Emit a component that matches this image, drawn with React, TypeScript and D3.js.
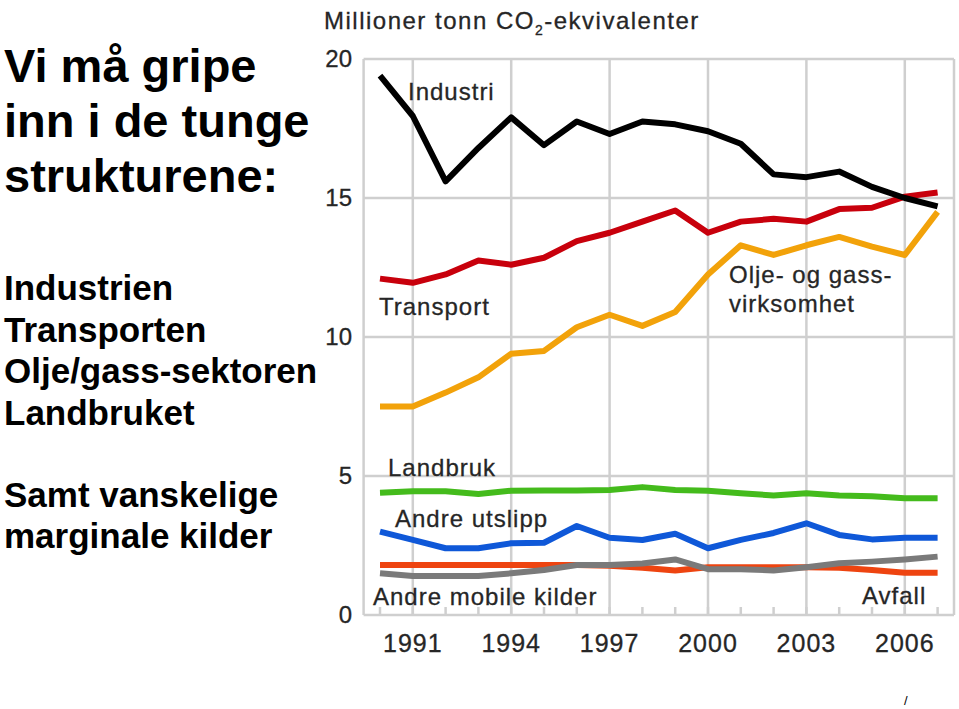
import React from "react";
import * as d3 from "d3";

const years = [1990, 1991, 1992, 1993, 1994, 1995, 1996, 1997, 1998, 1999, 2000, 2001, 2002, 2003, 2004, 2005, 2006, 2007];
const industri = [19.4, 17.95, 15.6, 16.8, 17.9, 16.9, 17.75, 17.3, 17.75, 17.65, 17.4, 16.95, 15.85, 15.75, 15.95, 15.4, 15.0, 14.7];
const transport = [12.1, 11.95, 12.25, 12.75, 12.6, 12.85, 13.45, 13.75, 14.15, 14.55, 13.75, 14.15, 14.25, 14.15, 14.6, 14.65, 15.05, 15.2];
const oljeGass = [7.5, 7.5, 8.0, 8.55, 9.4, 9.5, 10.35, 10.8, 10.4, 10.9, 12.25, 13.3, 12.95, 13.3, 13.6, 13.25, 12.95, 14.5];
const landbruk = [4.4, 4.45, 4.45, 4.35, 4.47, 4.48, 4.48, 4.5, 4.6, 4.5, 4.47, 4.38, 4.3, 4.38, 4.3, 4.27, 4.2, 4.2];
const andreUtslipp = [3.0, 2.7, 2.4, 2.4, 2.58, 2.6, 3.2, 2.78, 2.7, 2.92, 2.4, 2.7, 2.95, 3.3, 2.88, 2.72, 2.78, 2.78];
const avfall = [1.8, 1.8, 1.8, 1.8, 1.8, 1.8, 1.8, 1.77, 1.7, 1.6, 1.72, 1.72, 1.72, 1.72, 1.7, 1.62, 1.52, 1.52];
const andreMobile = [1.5, 1.4, 1.4, 1.4, 1.5, 1.62, 1.8, 1.8, 1.85, 2.0, 1.65, 1.65, 1.6, 1.72, 1.86, 1.92, 2.0, 2.1];

const yTicks = [0, 5, 10, 15, 20];
const xTickLabels = [1991, 1994, 1997, 2000, 2003, 2006];

const titleLines = ["Vi må gripe", "inn i de tunge", "strukturene:"];
const bodyLines = ["Industrien", "Transporten", "Olje/gass-sektoren", "Landbruket"];
const bodyLines2 = ["Samt vanskelige", "marginale kilder"];

const series = [
  { name: "avfall", values: avfall, color: "#ee4410" },
  { name: "andreMobile", values: andreMobile, color: "#7a7a7a" },
  { name: "andreUtslipp", values: andreUtslipp, color: "#0f58d8" },
  { name: "landbruk", values: landbruk, color: "#44bb1c" },
  { name: "oljeGass", values: oljeGass, color: "#f2a20a" },
  { name: "transport", values: transport, color: "#c8000c" },
  { name: "industri", values: industri, color: "#000000" },
];

export default function App() {
  const x = d3.scaleLinear().domain([1990, 2007]).range([380, 937.6]);
  const y = d3.scaleLinear().domain([0, 20]).range([615, 59]);
  const line = d3
    .line<number>()
    .x((_, i) => x(years[i]))
    .y((d) => y(d));

  const left = x(1989.5);
  const right = x(2007.5);
  const labelFont = "'Liberation Sans', Arial, sans-serif";
  const lab = { fontFamily: labelFont, fontSize: 24, fill: "#262626", letterSpacing: 1, stroke: "#262626", strokeWidth: 0.3 } as const;

  return (
    <svg
      width={959}
      height={709}
      style={{ position: "absolute", left: 0, top: 0, background: "#fff" }}
    >
      <rect x={0} y={0} width={959} height={709} fill="#fff" />
      {/* left text */}
      <g fontFamily={labelFont} fontWeight="bold" fill="#000">
        {titleLines.map((t, i) => (
          <text key={t} x={4} y={82 + i * 55} fontSize={47}>
            {t}
          </text>
        ))}
        {bodyLines.map((t, i) => (
          <text key={t} x={4} y={300 + i * 41.7} fontSize={35}>
            {t}
          </text>
        ))}
        {bodyLines2.map((t, i) => (
          <text key={t} x={4} y={507 + i * 41} fontSize={35}>
            {t}
          </text>
        ))}
      </g>

      {/* grid */}
      <g stroke="#cfcfcf" strokeWidth={2.5}>
        {yTicks.map((t) => (
          <line key={t} x1={left} x2={right} y1={y(t)} y2={y(t)} />
        ))}
        {xTickLabels.map((t) => (
          <line key={t} x1={x(t)} x2={x(t)} y1={y(20)} y2={y(0)} />
        ))}
        <line x1={left} x2={left} y1={y(20)} y2={y(0)} />
        <line x1={right} x2={right} y1={y(20)} y2={y(0)} />
        {years.map((yr) => (
          <line key={yr} x1={x(yr)} x2={x(yr)} y1={y(0)} y2={y(0) - 8} />
        ))}
      </g>

      {/* axis labels */}
      {yTicks.map((t) => (
        <text key={t} x={352} y={y(t) + 8} textAnchor="end" {...lab} fontSize={24} letterSpacing={0}>
          {t}
        </text>
      ))}
      {xTickLabels.map((t) => (
        <text key={t} x={x(t)} y={652} textAnchor="middle" {...lab} fontSize={25} letterSpacing={1}>
          {t}
        </text>
      ))}
      <text x={324} y={29} {...lab} fontSize={24} letterSpacing={1.5}>
        Millioner tonn CO
        <tspan fontSize={14} dy={6}>2</tspan>
        <tspan dy={-6}>-ekvivalenter</tspan>
      </text>

      {/* lines */}
      <g fill="none" strokeWidth={6} strokeLinejoin="round" strokeLinecap="butt">
        {series.map((s) => (
          <path key={s.name} d={line(s.values) || ""} stroke={s.color} />
        ))}
      </g>

      {/* series labels */}
      <text x={408} y={100} {...lab}>Industri</text>
      <text x={379} y={315} {...lab}>Transport</text>
      <text x={729} y={283} {...lab}>Olje- og gass-</text>
      <text x={729} y={312} {...lab}>virksomhet</text>
      <text x={388} y={476} {...lab}>Landbruk</text>
      <text x={395} y={527} {...lab}>Andre utslipp</text>
      <text x={373} y={605} {...lab}>Andre mobile kilder</text>
      <text x={862} y={604} {...lab}>Avfall</text>

      <text x={904} y={705} fontFamily={labelFont} fontSize={13} fill="#000">/</text>
    </svg>
  );
}
